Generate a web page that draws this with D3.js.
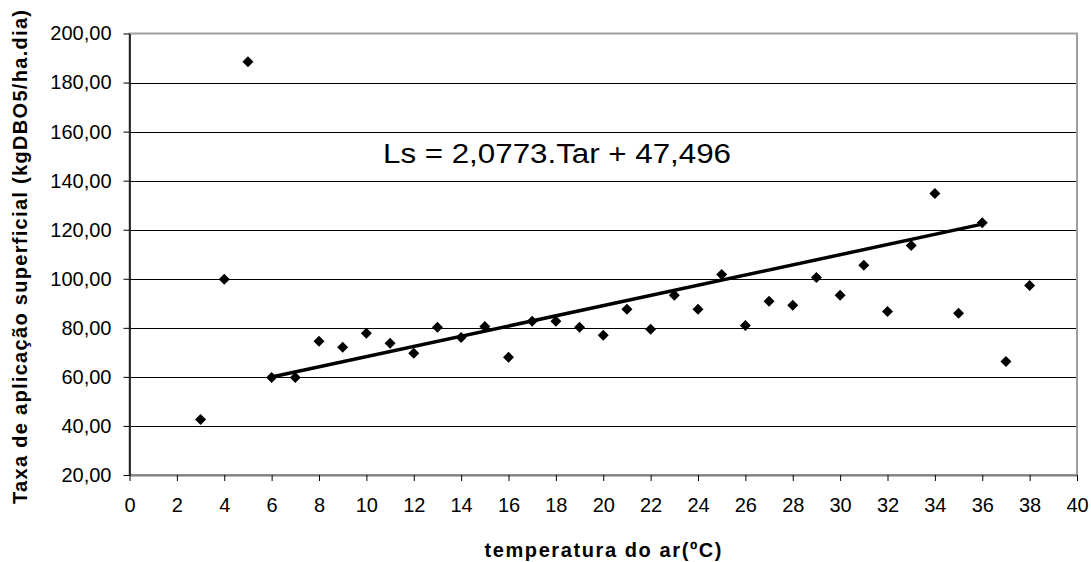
<!DOCTYPE html>
<html>
<head>
<meta charset="utf-8">
<script src="https://cdn.jsdelivr.net/npm/d3@7"></script>
<style>
  body { margin: 0; background: #fff; }
  text { font-family: "Liberation Sans", Arial, sans-serif; fill: #000; }
</style>
</head>
<body>
<svg width="1091" height="562"></svg>
<script>
// Data
var temperatura = [3, 4, 5, 6, 7, 8, 9, 10, 11, 12, 13, 14, 15, 16, 17, 18, 19, 20,
  21, 22, 23, 24, 25, 26, 27, 28, 29, 30, 31, 32, 33, 34, 35, 36, 37, 38];
var taxa = [42.6, 99.8, 188.5, 59.8, 59.8, 74.5, 72.1, 77.8, 73.7, 69.6, 80.2, 76.1,
  80.5, 68.0, 82.7, 82.7, 80.2, 77.0, 87.6, 79.4, 93.3, 87.6, 101.7, 81.0, 90.8,
  89.2, 100.5, 93.3, 105.5, 86.7, 113.6, 134.8, 85.9, 122.8, 66.3, 97.3];
var xTicks = d3.range(0, 41, 2);
var yTicks = d3.range(20, 201, 20);

// linear trend printed on the chart, drawn over 6..36
var slope = 2.0773, intercept = 47.496;
var trendRange = [6, 36];
var equationLabel = "Ls = 2,0773.Tar + 47,496";

// The svg
var svg = d3.select("svg");
var plotLeft = 129.5, plotRight = 1077, plotTop = 33.5, plotBottom = 475;

var x = d3.scaleLinear().domain([0, 40]).range([plotLeft, plotRight]);
var y = d3.scaleLinear().domain([20, 200]).range([plotBottom, plotTop]);

// gridlines
svg.append("g")
  .selectAll("line")
  .data(yTicks.slice(1, -1))
  .enter()
  .append("line")
  .attr("x1", plotLeft)
  .attr("x2", plotRight)
  .attr("y1", function (d) { return Math.round(y(d)) + 0.5; })
  .attr("y2", function (d) { return Math.round(y(d)) + 0.5; })
  .attr("stroke", "#000")
  .attr("stroke-width", 1);

// plot frame (grey top / right / bottom)
svg.append("rect")
  .attr("x", plotLeft)
  .attr("y", plotTop)
  .attr("width", plotRight - plotLeft)
  .attr("height", plotBottom - plotTop)
  .attr("fill", "none")
  .attr("stroke", "#a0a0a0")
  .attr("stroke-width", 2);

// axes
var xAxis = svg.append("g")
  .attr("transform", "translate(0," + plotBottom + ")")
  .call(d3.axisBottom(x).tickValues(xTicks).tickSize(6).tickPadding(17).tickSizeOuter(0));
xAxis.select(".domain").attr("stroke", "#808080").attr("stroke-width", 2);
xAxis.selectAll(".tick line").attr("stroke", "#000");
xAxis.selectAll("text")
  .attr("fill", "#000")
  .style("font-size", "20px")
  .style("font-family", "Liberation Sans, Arial, sans-serif");

var yAxis = svg.append("g")
  .attr("transform", "translate(" + plotLeft + ",0)")
  .call(d3.axisLeft(y).tickValues(yTicks).tickSize(6).tickPadding(12).tickSizeOuter(0)
    .tickFormat(function (d) { return d3.format(".2f")(d).replace(".", ","); }));
yAxis.select(".domain").attr("stroke", "#000").attr("stroke-width", 1.5);
yAxis.selectAll(".tick line").attr("stroke", "#000");
yAxis.selectAll("text")
  .attr("fill", "#000")
  .style("font-size", "20px")
  .style("font-family", "Liberation Sans, Arial, sans-serif");

// trend line
svg.append("line")
  .attr("x1", x(trendRange[0]))
  .attr("y1", y(slope * trendRange[0] + intercept))
  .attr("x2", x(trendRange[1]))
  .attr("y2", y(slope * trendRange[1] + intercept))
  .attr("stroke", "#000")
  .attr("stroke-width", 3.5);

// diamonds
svg.append("g")
  .selectAll("path")
  .data(temperatura)
  .enter()
  .append("path")
  .attr("transform", function (d, i) {
    return "translate(" + x(d) + "," + y(taxa[i]) + ")";
  })
  .attr("d", "M0,-5.5L5.5,0L0,5.5L-5.5,0Z")
  .attr("fill", "#000");

// equation
svg.append("text")
  .attr("x", 383)
  .attr("y", 163)
  .attr("textLength", 348)
  .attr("lengthAdjust", "spacingAndGlyphs")
  .style("font-size", "28px")
  .text(equationLabel);

// axis titles
svg.append("text")
  .attr("x", 603)
  .attr("y", 557)
  .attr("text-anchor", "middle")
  .attr("textLength", 237)
  .attr("lengthAdjust", "spacing")
  .style("font-size", "20px")
  .style("font-weight", "bold")
  .text("temperatura do ar(ºC)");

svg.append("text")
  .attr("transform", "translate(27," + 257 + ") rotate(-90)")
  .attr("text-anchor", "middle")
  .attr("textLength", 494)
  .attr("lengthAdjust", "spacing")
  .style("font-size", "20px")
  .style("font-weight", "bold")
  .text("Taxa de aplicação superficial (kgDBO5/ha.dia)");
</script>
</body>
</html>
